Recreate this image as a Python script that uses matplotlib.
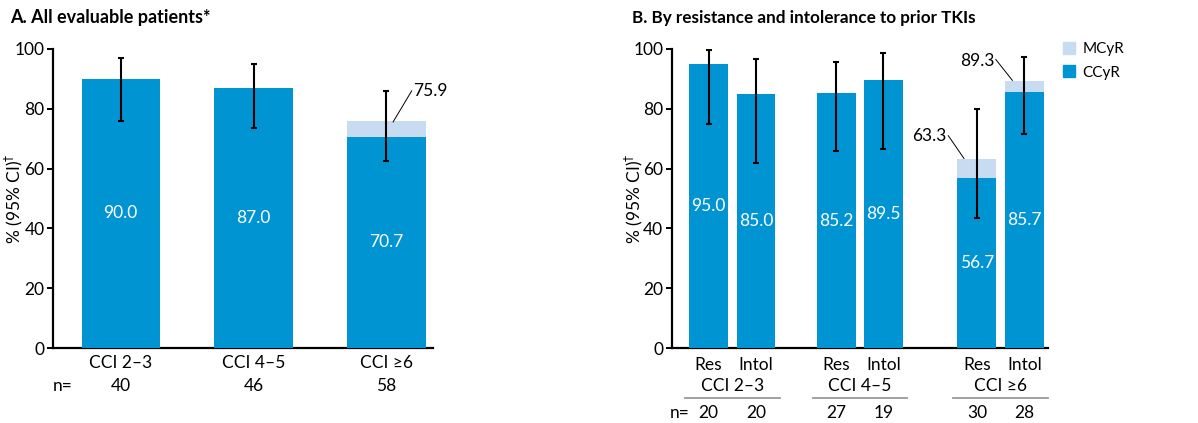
import matplotlib.pyplot as plt
from matplotlib.lines import Line2D
from matplotlib.patches import Patch

plt.rcParams['font.family'] = ['Lato', 'DejaVu Sans']

# Panel A data
groups_a = ['CCI 2–3', 'CCI 4–5', 'CCI ≥6']
n_a = [40, 46, 58]
ccyr_a = [90.0, 87.0, 70.7]
mcyr_a = [90.0, 87.0, 75.9]
ci_low_a = [76.0, 73.5, 62.5]
ci_high_a = [97.0, 95.0, 86.0]

# Panel B data
groups_b = ['CCI 2–3', 'CCI 4–5', 'CCI ≥6']
sub_b = ['Res', 'Intol', 'Res', 'Intol', 'Res', 'Intol']
n_b = [20, 20, 27, 19, 30, 28]
ccyr_b = [95.0, 85.0, 85.2, 89.5, 56.7, 85.7]
mcyr_b = [95.0, 85.0, 85.2, 89.5, 63.3, 89.3]
ci_low_b = [75.0, 62.0, 66.0, 66.6, 43.6, 71.5]
ci_high_b = [99.7, 96.5, 95.7, 98.6, 80.0, 97.3]

dark = '#0094d2'
light = '#c8dcf1'
fs = 12.5

fig = plt.figure(figsize=(11.98, 4.23), dpi=100)
axA = fig.add_axes([0.0442, 0.1773, 0.3172, 0.7069])
axB = fig.add_axes([0.5607, 0.1773, 0.3141, 0.7069])


def style(ax, label_x):
    ax.set_ylim(0, 100)
    ax.set_yticks([0, 20, 40, 60, 80, 100])
    ax.spines['top'].set_visible(False)
    ax.spines['right'].set_visible(False)
    ax.spines['left'].set_linewidth(1.6)
    ax.spines['bottom'].set_linewidth(1.6)
    ax.tick_params(axis='y', length=4, width=1.4, labelsize=fs, pad=2)
    ax.tick_params(axis='x', length=0, labelbottom=False)
    ax.set_ylabel('% (95% CI)$^{\\dagger}$', fontsize=fs)
    ax.yaxis.set_label_coords(label_x, 0.5)


def draw_bars(ax, xs, ccyr, mcyr, lo, hi, width):
    ax.bar(xs, mcyr, width=width, color=light, zorder=2)
    ax.bar(xs, ccyr, width=width, color=dark, zorder=3)
    for x, c, m, l, h in zip(xs, ccyr, mcyr, lo, hi):
        ax.errorbar(x, m, yerr=[[m - l], [h - m]], fmt='none', ecolor='black',
                    elinewidth=1.5, capsize=2.5, capthick=1.5, zorder=4)
        ax.text(x, c / 2, f'{c:.1f}', ha='center', va='center', color='white',
                fontsize=fs, zorder=5)


# ---- Panel A
xa = [0, 1, 2]
style(axA, -0.074)
axA.set_xlim(-0.51, 2.35)
draw_bars(axA, xa, ccyr_a, mcyr_a, ci_low_a, ci_high_a, 0.59)
tr = axA.get_xaxis_transform()
for x, g, n in zip(xa, groups_a, n_a):
    axA.text(x, -0.05, g, transform=tr, ha='center', va='center', fontsize=fs)
    axA.text(x, -0.127, str(n), transform=tr, ha='center', va='center', fontsize=fs)
axA.text(-0.44, -0.127, 'n=', transform=tr, ha='center', va='center', fontsize=fs)
axA.plot([2.05, 2.19], [75.6, 86], color='black', lw=0.7, zorder=6)
axA.text(2.2, 86, f'{mcyr_a[2]:.1f}', ha='left', va='center', fontsize=fs)
axA.set_title('A. All evaluable patients*', loc='left', fontsize=13,
              fontweight='bold', x=-0.113, y=1.06, ha='left')

# ---- Panel B
xb = [0, 1, 2.695, 3.684, 5.653, 6.653]
style(axB, -0.071)
axB.set_xlim(-0.775, 7.15)
draw_bars(axB, xb, ccyr_b, mcyr_b, ci_low_b, ci_high_b, 0.82)
tr = axB.get_xaxis_transform()
for x, s, n in zip(xb, sub_b, n_b):
    axB.text(x, -0.057, s, transform=tr, ha='center', va='center', fontsize=fs)
    axB.text(x, -0.217, str(n), transform=tr, ha='center', va='center', fontsize=fs)
for i, g in enumerate(groups_b):
    x0, x1 = xb[2 * i], xb[2 * i + 1]
    mid = (x0 + x1) / 2
    axB.text(mid, -0.127, g, transform=tr, ha='center', va='center', fontsize=fs)
    axB.add_line(Line2D([x0 - 0.5, x1 + 0.5], [-0.167, -0.167], transform=tr,
                        color='#999999', lw=1.3, clip_on=False))
axB.text(-0.6, -0.217, 'n=', transform=tr, ha='center', va='center', fontsize=fs)
axB.plot([5.05, 5.38], [71, 63.4], color='black', lw=0.7, zorder=6)
axB.text(5.02, 71, f'{mcyr_b[4]:.1f}', ha='right', va='center', fontsize=fs)
axB.plot([6.05, 6.4], [96.5, 89.5], color='black', lw=0.7, zorder=6)
axB.text(6.02, 96, f'{mcyr_b[5]:.1f}', ha='right', va='center', fontsize=fs)
axB.set_title('B. By resistance and intolerance to prior TKIs', loc='left',
              fontsize=12.3, fontweight='bold', x=-0.105, y=1.06, ha='left')

handles = [Patch(color=light, label='MCyR'), Patch(color=dark, label='CCyR')]
fig.legend(handles=handles, loc='upper left', bbox_to_anchor=(0.882, 0.915),
           frameon=False, fontsize=fs - 1.5, handlelength=0.8, handleheight=0.8,
           handletextpad=0.5, labelspacing=0.6, borderaxespad=0)

fig.savefig('out.png', dpi=100)
